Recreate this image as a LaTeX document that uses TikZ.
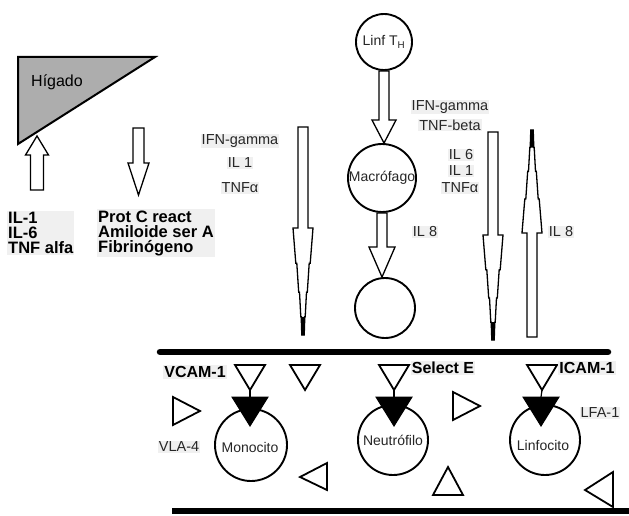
\documentclass[tikz,border=0pt]{standalone}
\usepackage{fontspec}
\setmainfont{Liberation Sans}
\usetikzlibrary{calc}
\newcommand\hollowarrow[6]{% cx, tail y, head-base y, tip y, shaft half, head half
  \draw[blk] (#1-#5,#2) -- (#1+#5,#2) -- (#1+#5,#3) -- (#1+#6,#3) -- (#1,#4)
    -- (#1-#6,#3) -- (#1-#5,#3) -- cycle;}
\newcommand\blockconn[5]{% from, to, shaft half, head half, head length
  \draw[blk] let \p1=(#1), \p2=(#2) in
    (\x1-#3pt,\y1) -- (\x1+#3pt,\y1) -- (\x1+#3pt,\y2+#5pt) -- (\x1+#4pt,\y2+#5pt)
    -- (\x1,\y2) -- (\x1-#4pt,\y2+#5pt) -- (\x1-#3pt,\y2+#5pt) -- cycle;}
\newcommand\taperarrow[4]{% cx, tail y, head-base y, tip y
  \draw[blk] (#1-5,#2) -- (#1+5,#2) -- (#1+5,#3) -- (#1+10,#3)
    -- (#1+7.2,{#3+0.33*(#4-#3)}) -- (#1+6.2,{#3+0.33*(#4-#3)})
    -- (#1+4.3,{#3+0.6*(#4-#3)}) -- (#1+3.5,{#3+0.6*(#4-#3)})
    -- (#1+2.2,{#3+0.83*(#4-#3)}) -- (#1+1.8,{#3+0.83*(#4-#3)})
    -- (#1+1.2,#4) -- (#1-1.2,#4)
    -- (#1-1.8,{#3+0.83*(#4-#3)}) -- (#1-2.2,{#3+0.83*(#4-#3)})
    -- (#1-3.5,{#3+0.6*(#4-#3)}) -- (#1-4.3,{#3+0.6*(#4-#3)})
    -- (#1-6.2,{#3+0.33*(#4-#3)}) -- (#1-7.2,{#3+0.33*(#4-#3)})
    -- (#1-10,#3) -- (#1-5,#3) -- cycle;
  \fill (#1-1.8,{#3+0.83*(#4-#3)}) -- (#1+1.8,{#3+0.83*(#4-#3)})
    -- (#1+1.2,#4) -- (#1-1.2,#4) -- cycle;}
\begin{document}
\begin{tikzpicture}[x=1pt,y=-1pt,
  lab/.style={font=\fontsize{14.5}{15}\selectfont, text=black!85, fill=black!6, inner sep=1pt},
  blab/.style={font=\bfseries\fontsize{16}{15}\selectfont, fill=black!6, inner sep=1pt, align=left},
  bigblab/.style={blab, font=\bfseries\fontsize{16.5}{15}\selectfont},
  cell/.style={draw, circle, line width=1.9pt, inner sep=0pt},
  celltext/.style={font=\fontsize{14}{14}\selectfont, text=black!85, inner sep=0pt},
  blk/.style={draw, line width=1.3pt, fill=white, line join=miter},
  tri/.style={draw, line width=1.8pt, fill=white, line join=miter},
  ftri/.style={fill=black, draw=black, line width=1pt, line join=miter},
  wall/.style={line width=6.5pt}]
\fill[white] (0,0) rectangle (629,516);
\useasboundingbox (0,0) rectangle (629,516);

% liver
\draw[line width=2pt, fill=black!32, line join=miter] (18,57) -- (155,57) -- (18,144) -- cycle;
\node[font=\fontsize{16}{16}\selectfont] (hig) at (57,82) {Hígado};
\hollowarrow{37}{190}{155}{136}{6.5}{11.5}
\hollowarrow{138.5}{128}{163}{195}{5.5}{10.5}
\node[bigblab, anchor=west] (cyt) at (7,233) {IL-1\\IL-6\\TNF alfa};
\node[bigblab, anchor=west] (prot) at (97,233) {Prot C react\\Amiloide ser A\\Fibrinógeno};

% central cells
\node[cell, minimum size=56] (linf) at (384,42) {};
\node[celltext] (linft) at (linf) {Linf T\textsubscript{H}};
\node[cell, minimum size=68] (macro) at (382,178) {};
\node[celltext] (macrot) at (macro) {Macrófago};
\node[cell, minimum size=60] (act) at (385,308) {};
\blockconn{linf.south}{macro.north}{5}{12}{23}
\blockconn{macro.south}{act.north}{5}{13}{30}

% tapered arrows
\taperarrow{303}{127}{228}{335}
\taperarrow{493}{132}{235}{340}
\taperarrow{532}{337}{233}{130}

% labels
\node[lab] (l1) at (240,141) {IFN-gamma};
\node[lab] (l2) at (240,163) {IL 1};
\node[lab] (l3) at (240,188) {TNFα};
\node[lab] (l4) at (450,107) {IFN-gamma};
\node[lab] (l5) at (450,125) {TNF-beta};
\node[lab] (l6) at (461,155) {IL 6};
\node[lab] (l7) at (461,171) {IL 1};
\node[lab] (l8) at (460,188) {TNFα};
\node[lab] (l9) at (425,232) {IL 8};
\node[lab] (l10) at (561,232) {IL 8};

% endothelium walls
\draw[wall, line cap=round] (160,352) -- (608,352);
\draw[wall] (172,511) -- (629,511);

% receptors (hollow, down)
\foreach \cx in {250,305,394,542}
  \draw[tri] (\cx-15,365) -- (\cx+15,365) -- (\cx,390) -- cycle;
% ligands (filled)
\foreach \cx in {250,394,541}
  \draw[ftri] (\cx-18,397) -- (\cx+18,397) -- (\cx,426) -- cycle;
\foreach \a/\b in {250/250,394/394,542/541}
  \draw[line width=1.2pt] (\a,390) -- (\b,397);
% other triangles
\draw[tri] (173,397) -- (173,425) -- (200,411) -- cycle;
\draw[tri] (453,392) -- (453,420) -- (480,406) -- cycle;
\draw[tri] (327,463) -- (327,490) -- (300,477) -- cycle;
\draw[tri] (613,472) -- (613,507) -- (585,490) -- cycle;
\draw[tri] (433,495) -- (463,495) -- (448,467) -- cycle;

% leukocytes
\node[cell, minimum size=72] (mono) at (251,445) {};
\node[celltext] (monot) at (250,447) {Monocito};
\node[cell, minimum size=70] (neut) at (393,440) {};
\node[celltext] (neutt) at (393,440) {Neutrófilo};
\node[cell, minimum size=70] (linfo) at (545,440) {};
\node[celltext] (linfot) at (543,445) {Linfocito};
\foreach \cx in {250,394,541}
  \fill (\cx-16,398) -- (\cx+16,398) -- (\cx,425) -- cycle;

\node[blab] (vcam) at (195,372) {VCAM-1};
\node[blab] (sele) at (443,368) {Select E};
\node[blab] (icam) at (587,368) {ICAM-1};
\node[lab] (vla) at (179,447) {VLA-4};
\node[lab] (lfa) at (600,413) {LFA-1};
\end{tikzpicture}
\end{document}
